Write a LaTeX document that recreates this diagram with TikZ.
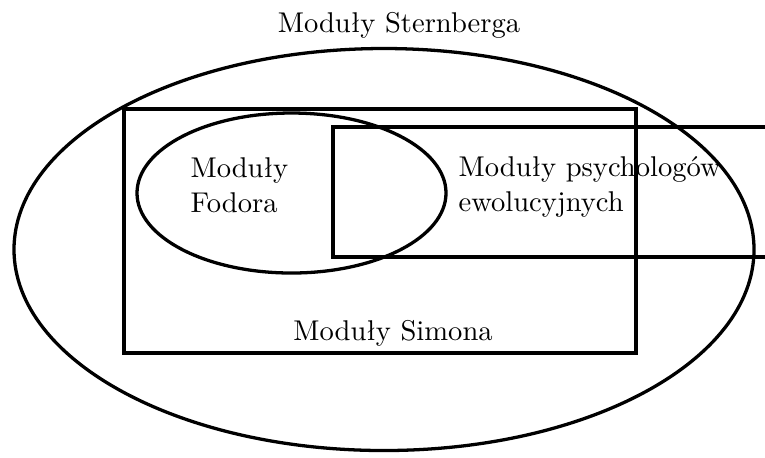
\documentclass[tikz,border=0pt]{standalone}
\begin{document}
\begin{tikzpicture}[x=0.35pt,y=-0.35pt,
  outline/.style={draw=black,line width=1.15pt},
  lbl/.style={inner sep=0pt,font=\normalsize},
  mlbl/.style={inner sep=0pt,align=left,font=\normalsize}]
\useasboundingbox (0,0) rectangle (765,457);
% Sternberg
\draw[outline] (384,249.5) ellipse [x radius=370, y radius=201];
\node[lbl,anchor=base] (stern) at (399,32) {Moduły Sternberga};
% Simon
\draw[outline] (124,109) rectangle (636,353);
\node[lbl,anchor=base] (simon) at (393,340) {Moduły Simona};
% Fodor
\draw[outline] (291.5,193) ellipse [x radius=154.5, y radius=80];
\node[mlbl,anchor=base west] (fodor) at (190,212) {Moduły\\Fodora};
% Evolutionary psychologists
\coordinate (pTR) at (765,127);
\coordinate (pBR) at (765,257);
\draw[outline] (pTR) -- (333,127) -- (333,257) -- (pBR);
\node[mlbl,anchor=base west] (psych) at (458,211) {Moduły psychologów\\ewolucyjnych};
\end{tikzpicture}
\end{document}
